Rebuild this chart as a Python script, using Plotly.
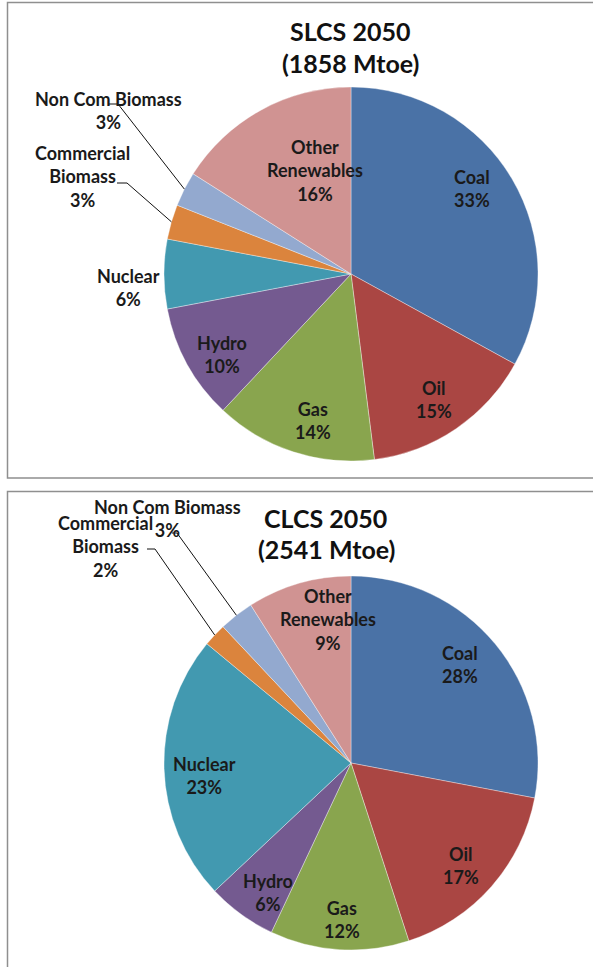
import math
import plotly.graph_objects as go

# ---------------- data ----------------
categories = ["Coal", "Oil", "Gas", "Hydro", "Nuclear",
              "Commercial Biomass", "Non Com Biomass", "Other Renewables"]
slcs_values = [33, 15, 14, 10, 6, 3, 3, 16]
clcs_values = [28, 17, 12, 6, 23, 2, 3, 9]
slcs_title = "SLCS 2050"
slcs_total = "(1858 Mtoe)"
clcs_title = "CLCS 2050"
clcs_total = "(2541 Mtoe)"
label_text = {
    "Coal": "Coal", "Oil": "Oil", "Gas": "Gas", "Hydro": "Hydro",
    "Nuclear": "Nuclear", "Commercial Biomass": "Commercial<br>Biomass",
    "Non Com Biomass": "Non Com Biomass", "Other Renewables": "Other<br>Renewables",
}

# ---------------- style ----------------
W, H = 593, 967
colors = ["#4A72A6", "#AA4643", "#89A54E", "#745A90", "#4299B0",
          "#DB843D", "#93A9CF", "#D09392"]
FONT = "Lato"
TXT = "#1a1a1a"
R = 187
centers = [(351, 274), (351, 763)]

# label centre positions (pixels) for each pie
label_pos = [
    {"Coal": (472, 188), "Oil": (434, 399), "Gas": (313, 420), "Hydro": (222, 354),
     "Nuclear": (128, 288), "Commercial Biomass": (82, 176),
     "Non Com Biomass": (108, 110), "Other Renewables": (315, 170)},
    {"Coal": (460, 664), "Oil": (461, 865), "Gas": (342, 919), "Hydro": (268, 892),
     "Nuclear": (204, 775), "Commercial Biomass": (105, 546),
     "Non Com Biomass": (167, 518), "Other Renewables": (328, 619)},
]
# leader line start segments (pixels)
leaders = [
    {"Non Com Biomass": ((109, 104), (118, 104)),
     "Commercial Biomass": ((117, 183), (127, 183))},
    {"Non Com Biomass": ((172, 533), (177, 533)),
     "Commercial Biomass": ((147, 549), (155, 549))},
]
title_pos = [((350, 31), (350, 63)), ((325, 518), (326, 549))]


def px(x):
    return x / W


def py(y):
    return 1 - y / H


fig = go.Figure()
shapes = []
annotations = []

for i, (vals, t1, t2) in enumerate([(slcs_values, slcs_title, slcs_total),
                                    (clcs_values, clcs_title, clcs_total)]):
    cx, cy = centers[i]
    fig.add_trace(go.Pie(
        labels=categories, values=vals, sort=False, direction="clockwise",
        rotation=0, textinfo="none", hoverinfo="label+percent",
        marker=dict(colors=colors, line=dict(color="rgba(255,255,255,0.6)", width=0.6)),
        domain=dict(x=[px(cx - R), px(cx + R)], y=[py(cy + R), py(cy - R)]),
        showlegend=False,
    ))
    total = sum(vals)
    cum = 0
    for cat, v in zip(categories, vals):
        mid = (cum + v / 2) / total * 2 * math.pi
        cum += v
        lx, ly = label_pos[i][cat]
        pct = round(v / total * 100)
        annotations.append(dict(
            x=px(lx), y=py(ly), xref="paper", yref="paper",
            text=f"{label_text[cat]}<br>{pct}%", showarrow=False,
            xanchor="center", yanchor="middle", align="center",
            font=dict(family=FONT, size=18, color=TXT, weight="bold"),
        ))
        if cat in leaders[i]:
            (x0, y0), (x1, y1) = leaders[i][cat]
            ex = cx + R * math.sin(mid)
            ey = cy - R * math.cos(mid)
            shapes.append(dict(
                type="path", xref="paper", yref="paper",
                path=f"M {px(x0)} {py(y0)} L {px(x1)} {py(y1)} L {px(ex)} {py(ey)}",
                line=dict(color="#111111", width=1),
            ))
    (tx1, ty1), (tx2, ty2) = title_pos[i]
    for txt, (tx, ty) in [(t1, (tx1, ty1)), (t2, (tx2, ty2))]:
        annotations.append(dict(
            x=px(tx), y=py(ty), xref="paper", yref="paper", text=txt,
            showarrow=False, xanchor="center", yanchor="middle",
            font=dict(family=FONT, size=25, color="#111111", weight="bold"),
        ))

# chart frames
shapes.append(dict(type="rect", xref="paper", yref="paper",
                   x0=px(7.5), x1=px(603), y0=py(478), y1=py(2.5),
                   line=dict(color="#8f8f8f", width=1.5), layer="below"))
shapes.append(dict(type="rect", xref="paper", yref="paper",
                   x0=px(7.5), x1=px(603), y0=py(980), y1=py(491.5),
                   line=dict(color="#8f8f8f", width=1.5), layer="below"))

fig.update_layout(
    width=W, height=H, margin=dict(l=0, r=0, t=0, b=0),
    paper_bgcolor="white", plot_bgcolor="white",
    shapes=shapes, annotations=annotations,
)
fig.write_html(
    "out.html",
    config={"displayModeBar": False},
    post_script="document.body.style.margin='0';document.body.style.overflow='hidden';",
)
